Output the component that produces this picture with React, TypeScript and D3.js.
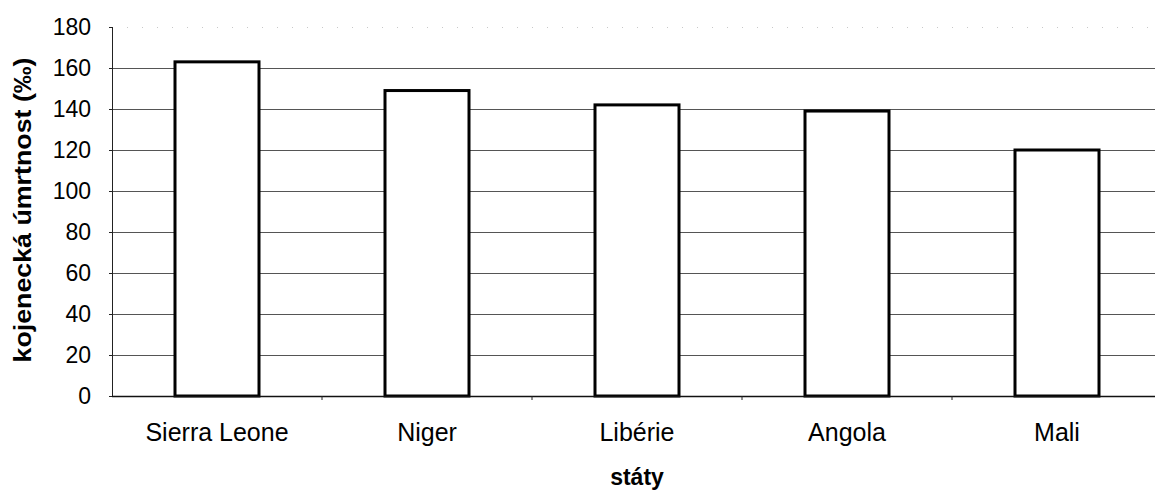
import React from "react";
import * as d3 from "d3";

const categories: string[] = ["Sierra Leone", "Niger", "Libérie", "Angola", "Mali"];
const mortality: number[] = [163, 149, 142, 139, 120];
const yTicks: number[] = [0, 20, 40, 60, 80, 100, 120, 140, 160, 180];
const yTitle = "kojenecká úmrtnost (‰)";
const xTitle = "státy";

const W = 1155;
const H = 492;
const margin = { left: 112, right: -7, top: 27, bottom: 96 };
const FONT = "Arial, 'Liberation Sans', Helvetica, sans-serif";

export default function App() {
  const x = d3
    .scaleBand<string>()
    .domain(categories)
    .range([margin.left, W - margin.right])
    .paddingInner(0.6)
    .paddingOuter(0.3);
  const y = d3.scaleLinear().domain([0, 180]).range([H - margin.bottom, margin.top]);
  const step = x.step();
  const boundaries = categories.slice(1).map((c) => (x(c) as number) - step * 0.3);

  return (
    <svg
      width={W}
      height={H}
      style={{ position: "absolute", left: 0, top: 0, background: "#fff" }}
      fontFamily={FONT}
    >
      <rect x={0} y={0} width={W} height={H} fill="#fff" />
      {/* horizontal gridlines */}
      {yTicks
        .filter((t) => t > 0)
        .map((t) => (
          <line
            key={"g" + t}
            x1={margin.left}
            x2={W}
            y1={Math.round(y(t)) + 0.5}
            y2={Math.round(y(t)) + 0.5}
            stroke={t === 180 ? "#c8c8c8" : "#555"}
            strokeWidth={1}
            strokeDasharray={t === 180 ? "1 14" : undefined}
          />
        ))}
      {/* bars */}
      {categories.map((c, i) => (
        <rect
          key={c}
          x={x(c)}
          y={y(mortality[i])}
          width={x.bandwidth()}
          height={y(0) - y(mortality[i])}
          fill="#fff"
          stroke="#000"
          strokeWidth={3}
        />
      ))}
      {/* axes */}
      <line x1={margin.left + 0.5} x2={margin.left + 0.5} y1={y(180)} y2={y(0)} stroke="#222" strokeWidth={1} />
      <line x1={margin.left} x2={W} y1={y(0) + 0.5} y2={y(0) + 0.5} stroke="#111" strokeWidth={1.5} />
      {yTicks.map((t) => (
        <line key={"t" + t} x1={margin.left - 3} x2={margin.left} y1={y(t) + 0.5} y2={y(t) + 0.5} stroke="#222" />
      ))}
      {boundaries.map((b, i) => (
        <line key={"b" + i} x1={b} x2={b} y1={y(0)} y2={y(0) + 4} stroke="#222" />
      ))}
      {/* y tick labels */}
      {yTicks.map((t) => (
        <text key={"l" + t} x={91} y={y(t) + 8} textAnchor="end" fontSize={23} fill="#000">
          {t}
        </text>
      ))}
      {/* category labels */}
      {categories.map((c) => (
        <text
          key={"c" + c}
          x={(x(c) as number) + x.bandwidth() / 2}
          y={441}
          textAnchor="middle"
          fontSize={25}
          fill="#000"
        >
          {c}
        </text>
      ))}
      <text x={637} y={485} textAnchor="middle" fontSize={23} fontWeight="bold" fill="#000">
        {xTitle}
      </text>
      <text
        transform={`translate(31, 210) rotate(-90)`}
        textAnchor="middle"
        fontSize={23}
        fontWeight="bold"
        fill="#000"
        textLength={305}
        lengthAdjust="spacingAndGlyphs"
      >
        {yTitle}
      </text>
    </svg>
  );
}
